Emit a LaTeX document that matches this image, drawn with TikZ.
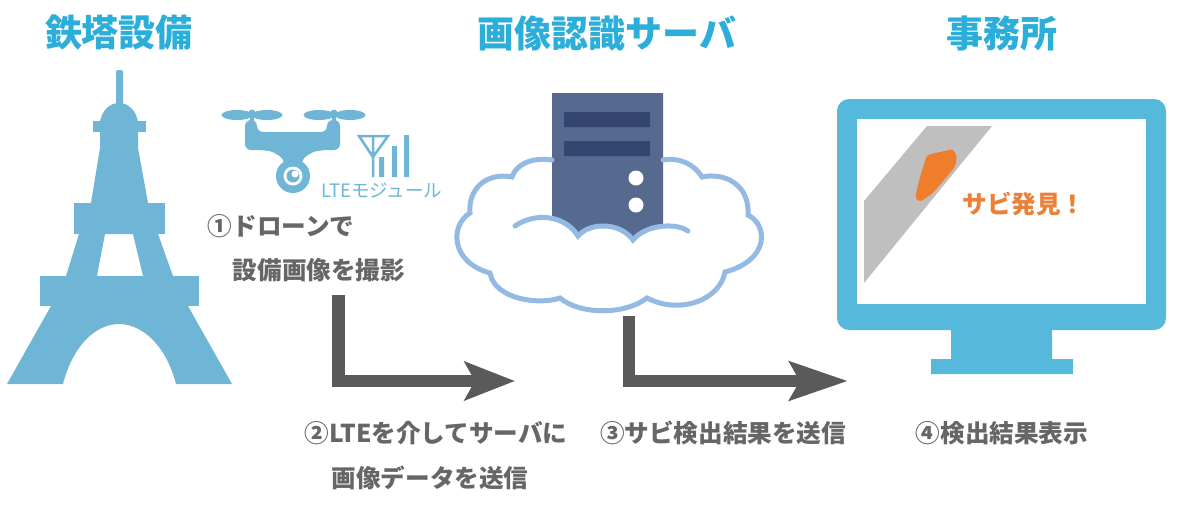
\documentclass[tikz,border=0pt]{standalone}
\usepackage{fontspec}
\usepackage{xcolor}
\setmainfont{Noto Sans CJK JP}
\usetikzlibrary{positioning,arrows.meta,calc}
\definecolor{towerblue}{HTML}{6FB5D6}
\definecolor{titleblue}{HTML}{2CAEDB}
\definecolor{monitorblue}{HTML}{56B9DB}
\definecolor{cloudblue}{HTML}{94BAE4}
\definecolor{serverblue}{HTML}{56698F}
\definecolor{slotblue}{HTML}{34466F}
\definecolor{rustorange}{HTML}{EE7E2C}
\definecolor{rustlabel}{HTML}{E9813B}
\definecolor{steptext}{HTML}{666666}
\definecolor{flowgray}{HTML}{5A5A5A}
\tikzset{
  heading/.style={font=\fontsize{37}{40}\selectfont\bfseries,text=titleblue},
  stepnote/.style={font=\fontsize{24.6}{28}\selectfont\bfseries,text=steptext},
  flowline/.style={draw=flowgray,line width=12.5pt,-{Stealth[length=#1,width=38pt,inset=10pt]}},
}
\begin{document}
\begin{tikzpicture}[x=1pt,y=-1pt, node distance=20pt, every node/.style={inner sep=0pt,minimum height=24pt,align=center}]
\useasboundingbox[fill=white] (0,0) rectangle (1200,507);
% headings
\node[heading] (tower) at (119,33) {鉄塔設備};
\node[heading] (server) at (607,33) {画像認識サーバ};
\node[heading] (office) at (1002,33) {事務所};
% tower
\fill[towerblue,rounded corners=2pt] (116,106) -- (116,70) -- (123,70) -- (123,106) -- cycle;
\fill[towerblue] (100,122) .. controls (102,110) and (110,103) .. (119,103) .. controls (128,103) and (136,110) .. (138,122) -- cycle;
\fill[towerblue] (93,121) rectangle (146,132);
\fill[towerblue] (100,132) -- (138,132) -- (138,148) -- (148,203) -- (91,203) -- (100,148) -- cycle;
\fill[towerblue] (74,203) rectangle (165,234);
\fill[towerblue,even odd rule] (79,234) -- (158,234) -- (173,276) -- (66,276) -- cycle (105,234) -- (133,234) -- (143,276) -- (97,276) -- cycle;
\fill[towerblue] (40,276) rectangle (199,306);
\fill[towerblue] (51,306) -- (188,306) -- (232,384) -- (176,384) .. controls (166,345) and (142,324) .. (119,324) .. controls (96,324) and (73,345) .. (63,384) -- (7,384) -- cycle;
% drone
\fill[towerblue] (237,115) ellipse (15.5 and 5) (267,115) ellipse (15.5 and 5) (319,115) ellipse (15.5 and 5) (350,115) ellipse (15.5 and 5);
\fill[towerblue] (252,113) circle (3.5) (334,113) circle (3.5);
\fill[towerblue] (250,115) rectangle (254,122) (332,115) rectangle (336,122);
\fill[towerblue,rounded corners=6pt] (245,120) -- (257,120) -- (257,132) -- (327,132) -- (327,120) -- (340,120) -- (340,150) -- (322,150) .. controls (312,152) and (304,157) .. (302,165) -- (284,165) .. controls (282,157) and (274,152) .. (264,150) -- (245,150) -- cycle;
\fill[towerblue] (293,176) circle (17);
\fill[white] (293,176) circle (9.5);
\fill[towerblue] (293,176) circle (6.5);
\fill[white] (295,174) circle (3.5);
% antenna and bars
\draw[towerblue,line width=2.5pt,line join=miter] (359,136) -- (388,136) -- (373,157) -- cycle (373,136) -- (373,177);
\fill[towerblue] (379,157) rectangle (384,177) (392,146) rectangle (397,177) (404,135) rectangle (409,177);
\node[font=\fontsize{18.5}{22}\selectfont,text=towerblue] (module) at (382,190) {LTEモジュール};
% cloud and server
\fill[serverblue] (552,93) -- (663,93) -- (663,224) .. controls (650,227) and (640,232) .. (633,240) .. controls (620,222) and (590,222) .. (578,236) .. controls (570,224) and (562,218) .. (552,216) -- cycle;
\fill[slotblue] (564,112) rectangle (650,127) (564,141) rectangle (650,156);
\fill[white] (636,178) circle (7.5) (636,205) circle (7.5);
\draw[cloudblue,line width=5pt,line cap=round] (552,160) .. controls (530,157) and (516,165) .. (512,177) .. controls (485,172) and (468,190) .. (470,213) .. controls (450,225) and (450,262) .. (490,273) .. controls (495,300) and (540,305) .. (560,298) .. controls (580,315) and (625,315) .. (647,298) .. controls (680,315) and (720,300) .. (725,272) .. controls (770,260) and (768,225) .. (748,215) .. controls (750,185) and (725,172) .. (702,177) .. controls (695,165) and (680,157) .. (663,160);
\draw[cloudblue,line width=5pt,line cap=round] (515,226) .. controls (535,212) and (565,215) .. (578,236) .. controls (590,222) and (620,222) .. (633,240) .. controls (645,225) and (675,222) .. (688,231);
% monitor
\fill[monitorblue,rounded corners=12pt] (837,99) rectangle (1166,330);
\fill[white] (857,119) rectangle (1146,304);
\fill[monitorblue] (951,330) rectangle (1052,359) (931,359) rectangle (1073,374);
\fill[black!25] (927,126) -- (992,126) -- (864,283) -- (864,201) -- cycle;
\fill[rustorange,rounded corners=3pt] (927,155) -- (953,149) -- (957,157) -- (955,167) -- (933,193) -- (920,202) -- (915,198) -- (920,177) -- cycle;
\node[font=\fontsize{24.6}{28}\selectfont\bfseries,text=rustlabel] (found) at (1024,204) {サビ発見！};
% step labels
\node[stepnote] (droneshot) at (281,226) {①ドローンで};
\node[stepnote,below=of droneshot,xshift=38pt] (droneimg) {設備画像を撮影};
\node[stepnote] (lteup) at (436,433) {②LTEを介してサーバに};
\node[stepnote,below=of lteup,xshift=-6pt] (lteimg) {画像データを送信};
\node[stepnote] (rustsend) at (723,433) {③サビ検出結果を送信};
\node[stepnote] (showres) at (1002,433) {④検出結果表示};
% arrows
\coordinate (flowastart) at (338.5,295);
\coordinate (flowaend) at (515,381);
\coordinate (flowbstart) at (629,316);
\coordinate (flowbend) at (848,381);
\draw[flowline=50pt] (flowastart) |- (flowaend);
\draw[flowline=58pt] (flowbstart) |- (flowbend);
\end{tikzpicture}
\end{document}
